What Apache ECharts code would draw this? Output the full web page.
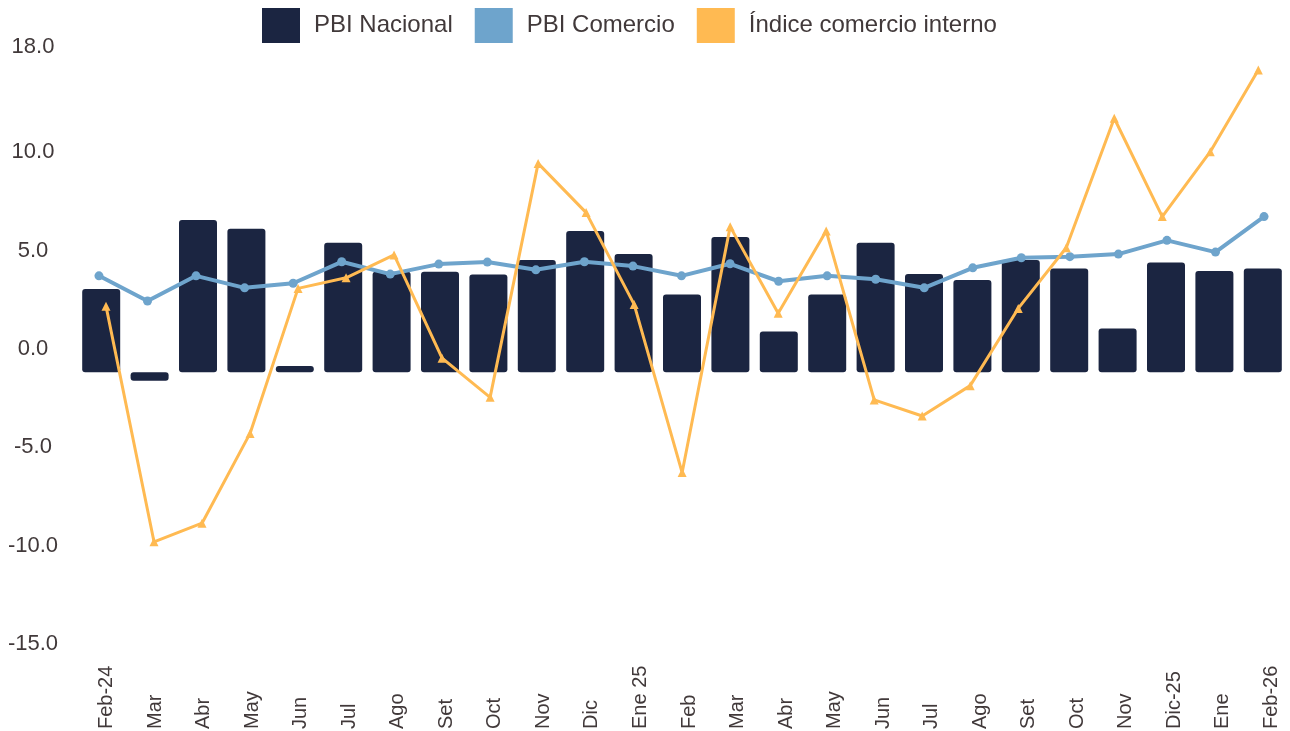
<!DOCTYPE html>
<html>
  <head>
    <meta charset="utf-8" />
    <title>PBI Nacional, PBI Comercio e Índice comercio interno</title>
    <script src="https://cdn.jsdelivr.net/npm/echarts@6/dist/echarts.min.js"></script>
    <style>
      html, body { margin: 0; padding: 0; background: #fff; }
    </style>
  </head>
  <body>
    <div id="chart" style="width: 1290px; height: 731px"></div>
    <script>
      /* ======= datos ======= */
      var months = [
        "Feb-24", "Mar", "Abr", "May", "Jun", "Jul", "Ago", "Set", "Oct", "Nov", "Dic",
        "Ene 25", "Feb", "Mar", "Abr", "May", "Jun", "Jul", "Ago", "Set", "Oct", "Nov",
        "Dic-25", "Ene", "Feb-26"
      ];
      var pbiNacional = [
        2.91, -0.3, 5.32, 5.02, 0.22, 4.53, 3.51, 3.51, 3.42, 3.92, 4.94,
        4.13, 2.72, 4.73, 1.42, 2.72, 4.53, 3.43, 3.22, 3.92, 3.63, 1.53,
        3.84, 3.54, 3.63
      ];
      var pbiComercio = [
        3.37, 2.49, 3.37, 2.95, 3.11, 3.86, 3.43, 3.78, 3.85, 3.58, 3.86,
        3.71, 3.37, 3.79, 3.18, 3.37, 3.25, 2.95, 3.65, 4.0, 4.04, 4.13,
        4.61, 4.2, 5.44
      ];
      var indiceComercio = [
        2.31, -5.93, -5.28, -2.14, 2.93, 3.3, 4.1, 0.49, -0.88, 7.3, 5.58,
        2.37, -3.51, 5.09, 2.06, 4.94, -0.97, -1.53, -0.47, 2.23, 4.35, 8.88,
        5.44, 7.71, 10.57
      ];
      // etiquetas del eje vertical tal como aparecen en el original
      // (la de arriba dice 18.0 aunque está casi donde iría 15)
      var yTickLabels = ["-15.0", "-10.0", "-5.0", "0.0", "5.0", "10.0", "18.0"];
      var yTickValues = [-15, -10, -5, 0, 5, 10, 15.34];
      var seriesNames = ["PBI Nacional", "PBI Comercio", "Índice comercio interno"];
      var colors = ["#1b2541", "#6ea4cc", "#ffba52"];
      var textColor = "#41393a";

      /* ======= grids ======= */
      // las tres series comparten la misma escala vertical, pero cada una
      // queda un poco desplazada en horizontal como en el original
      function dataGrid(left, right) {
        return { left: left, right: right, top: 29, bottom: 72.8, outerBoundsMode: "none" };
      }
      var grids = [
        dataGrid(77, 3),
        dataGrid(74.7, 1.7),
        dataGrid(82, 7.7),
        // eje de meses
        { left: 106.5, right: 18.5, top: 690, bottom: 3, outerBoundsMode: "none" },
        // etiquetas del eje vertical
        { left: 60, right: 1200, top: 47, bottom: 87, outerBoundsMode: "none" }
      ];

      function hiddenX(i) {
        return { type: "category", gridIndex: i, data: months, show: false, boundaryGap: true };
      }
      function hiddenY(i) {
        return { type: "value", gridIndex: i, min: -10, max: 12, show: false, splitLine: { show: false } };
      }

      var option = {
        animation: false,
        backgroundColor: "#fff",
        textStyle: { fontFamily: "Liberation Sans, Arial, sans-serif" },
        legend: {
          left: 262,
          top: 8,
          padding: 0,
          itemWidth: 38,
          itemHeight: 35,
          itemGap: 22,
          textStyle: { fontSize: 24, color: textColor, padding: [4, 0, 0, 9] },
          data: [
            { name: seriesNames[0], icon: "rect" },
            { name: seriesNames[1], icon: "rect" },
            { name: seriesNames[2], icon: "rect" }
          ]
        },
        grid: grids,
        xAxis: [
          hiddenX(0),
          hiddenX(1),
          hiddenX(2),
          {
            type: "category",
            gridIndex: 3,
            data: months,
            boundaryGap: false,
            axisLine: { show: false },
            axisTick: { show: false },
            axisLabel: {
              interval: 0,
              rotate: 90,
              align: "left",
              margin: 1,
              fontSize: 20,
              color: textColor
            }
          },
          { type: "value", gridIndex: 4, show: false }
        ],
        yAxis: [
          hiddenY(0),
          hiddenY(1),
          hiddenY(2),
          { type: "value", gridIndex: 3, show: false },
          {
            type: "value",
            gridIndex: 4,
            min: yTickValues[0],
            max: yTickValues[yTickValues.length - 1],
            axisLine: { show: false },
            axisTick: { show: false },
            splitLine: { show: false },
            axisLabel: {
              customValues: yTickValues,
              formatter: function(val) {
                var i = yTickValues.indexOf(val);
                return i >= 0 ? yTickLabels[i] : "";
              },
              align: "center",
              margin: 27,
              fontSize: 22,
              color: textColor
            }
          }
        ],
        series: [
          {
            name: seriesNames[0],
            type: "bar",
            xAxisIndex: 0,
            yAxisIndex: 0,
            barWidth: 38,
            itemStyle: { color: colors[0], borderRadius: 3 },
            data: pbiNacional
          },
          {
            name: seriesNames[1],
            type: "line",
            xAxisIndex: 1,
            yAxisIndex: 1,
            symbol: "circle",
            symbolSize: 9,
            itemStyle: { color: colors[1] },
            lineStyle: { width: 4, color: colors[1] },
            data: pbiComercio
          },
          {
            name: seriesNames[2],
            type: "line",
            xAxisIndex: 2,
            yAxisIndex: 2,
            symbol: "triangle",
            symbolSize: 9,
            itemStyle: { color: colors[2] },
            lineStyle: { width: 3, color: colors[2] },
            data: indiceComercio
          }
        ]
      };

      var chart = echarts.init(document.getElementById("chart"));
      chart.setOption(option);
    </script>
  </body>
</html>
